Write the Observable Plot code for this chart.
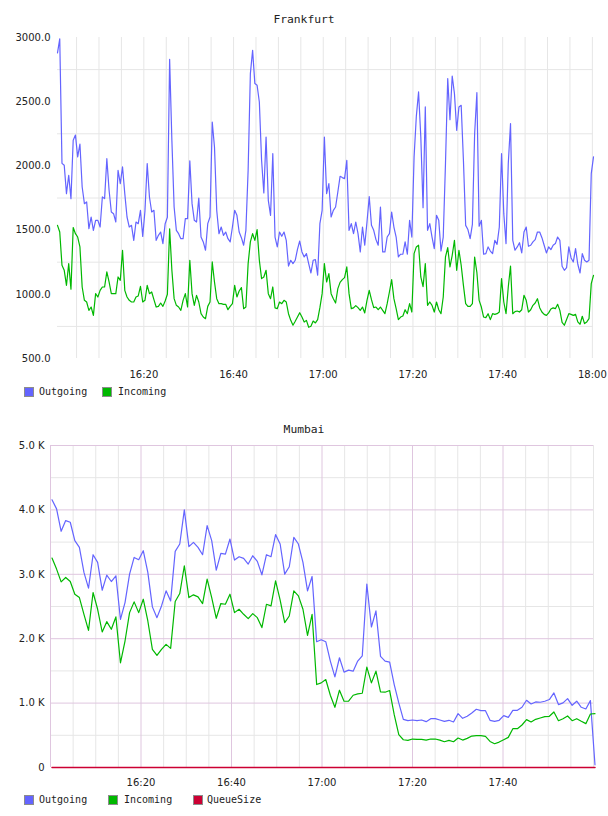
<!DOCTYPE html>
<html>
<head>
<meta charset="utf-8">
<script src="https://cdn.jsdelivr.net/npm/d3@7"></script>
<script src="https://cdn.jsdelivr.net/npm/@observablehq/plot@0.6"></script>
<style>
  body { margin: 0; background: #fff; width: 608px; height: 816px; position: relative; overflow: hidden; }
  .title { position: absolute; left: 0; width: 608px; text-align: center; font: 11.3px "DejaVu Sans Mono", monospace; color: #222; line-height: 14px; }
  .legend { position: absolute; left: 0; width: 608px; height: 14px; font: 10px "DejaVu Sans Mono", monospace; color: #222; line-height: 14px; }
  .legend span { position: absolute; top: 0; white-space: nowrap; }
  .legend i { position: absolute; top: 2px; width: 8px; height: 8px; border: 1px solid #8c8c8c; }
  .chart { position: absolute; left: 0; }
</style>
</head>
<body>
<div class="title" id="t1" style="top:13px"></div>
<div class="chart" id="c1" style="top:0"></div>
<div class="legend" id="l1" style="top:385px"></div>
<div class="title" id="t2" style="top:423px"></div>
<div class="chart" id="c2" style="top:410px"></div>
<div class="legend" id="l2" style="top:793px"></div>
<script>
// ---- Frankfurt: one sample every 30 s starting 16:00:45 ----
const frankfurtTitle = "Frankfurt";
const frankfurtStart = "16:00:45";
const frankfurtStepSeconds = 30;
const frankfurtSeries = ["Outgoing", "Incoming"];
const frankfurtOutgoing = [
  2880, 2990, 2020, 2005, 1784, 1927, 1745, 2200, 2240, 2070,
  2170, 1836, 1706, 1719, 1511, 1602, 1498, 1576, 1576, 1524,
  1758, 1745, 2056, 1810, 1641, 1628, 1563, 1966, 1862, 1992,
  1784, 1602, 1524, 1537, 1420, 1563, 1550, 1654, 1450, 1650,
  2018, 1758, 1641, 1654, 1420, 1459, 1485, 1395, 1550, 1600,
  2830, 2200, 1680, 1498, 1472, 1433, 1433, 1589, 1589, 2040,
  1706, 1576, 1563, 1750, 1446, 1408, 1343, 1550, 1602, 2342,
  2147, 1654, 1472, 1524, 1459, 1485, 1433, 1408, 1524, 1654,
  1615, 1485, 1441, 1382, 1498, 1966, 2719, 2900, 2641, 2628,
  2498, 2044, 1790, 2225, 1732, 1615, 2095, 1446, 1369, 1485,
  1452, 1485, 1420, 1220, 1265, 1239, 1265, 1350, 1415, 1330,
  1291, 1317, 1239, 1166, 1265, 1270, 1150, 1550, 1654, 2225,
  1784, 1862, 1602, 1654, 1680, 1797, 1919, 1909, 1901, 2044,
  1498, 1550, 1472, 1563, 1472, 1330, 1524, 1382, 1563, 1760,
  1537, 1498, 1426, 1382, 1680, 1330, 1330, 1446, 1472, 1641,
  1524, 1446, 1291, 1312, 1312, 1408, 1312, 1576, 1446, 2070,
  2386, 2576, 2225, 1675, 2459, 1498, 1550, 1446, 1356, 1615,
  1576, 1337, 1446, 2018, 2680, 2360, 2700, 2563, 2277, 2459,
  2472, 2044, 1537, 1504, 1433, 1545, 2250, 2570, 1530, 1576,
  1312, 1317, 1369, 1337, 1317, 1420, 1389, 1524, 2095, 1628,
  1395, 2018, 2330, 1420, 1343, 1369, 1402, 1322, 1485, 1524,
  1374, 1382, 1408, 1426, 1485, 1485, 1441, 1382, 1322, 1369,
  1348, 1382, 1395, 1446, 1420, 1218, 1187, 1208, 1369, 1283,
  1252, 1356, 1234, 1166, 1317, 1265, 1252, 1265, 1940, 2070
];
const frankfurtIncoming = [
  1537, 1485, 1226, 1187, 1070, 1239, 1040, 1520, 1472, 1446,
  1369, 1057, 953, 940, 875, 901, 836, 1005, 979, 1031,
  1057, 1057, 1174, 1096, 1005, 1005, 1005, 1135, 1109, 1343,
  1031, 979, 953, 940, 940, 979, 987, 1062, 940, 953,
  1070, 1005, 1018, 958, 901, 906, 932, 906, 948, 1000,
  1510, 1187, 966, 914, 901, 875, 953, 1005, 901, 1265,
  1005, 914, 992, 940, 849, 823, 810, 906, 940, 1252,
  1096, 966, 927, 927, 922, 922, 880, 906, 927, 1070,
  979, 1026, 1052, 888, 901, 1239, 1408, 1472, 1420, 1504,
  1265, 1122, 1135, 1187, 1005, 966, 1057, 894, 888, 940,
  927, 953, 940, 849, 797, 759, 790, 823, 857, 823,
  784, 797, 743, 751, 792, 777, 803, 896, 1005, 1239,
  1096, 1161, 1005, 966, 932, 1044, 1093, 1114, 1130, 1213,
  1005, 888, 894, 912, 896, 875, 901, 855, 953, 1031,
  958, 896, 901, 880, 901, 875, 849, 927, 1018, 1114,
  966, 888, 803, 823, 831, 880, 849, 927, 862, 1317,
  1369, 1382, 1135, 1060, 1239, 914, 940, 914, 862, 940,
  880, 849, 979, 1291, 1363, 1213, 1304, 1420, 1187, 1343,
  1226, 1070, 927, 906, 906, 927, 1290, 1170, 953, 901,
  823, 818, 849, 803, 849, 844, 849, 862, 1122, 940,
  849, 1057, 1220, 849, 865, 870, 862, 880, 992, 953,
  862, 880, 914, 932, 966, 896, 862, 844, 836, 855,
  886, 894, 888, 922, 875, 782, 759, 803, 849, 844,
  836, 844, 785, 767, 829, 772, 785, 810, 1083, 1148
];
const frankfurtDomain = ["16:00:45", "18:00:15"];
const frankfurtTimeTicks = ["16:20", "16:40", "17:00", "17:20", "17:40", "18:00"];
const frankfurtValueTicks = [500, 1000, 1500, 2000, 2500, 3000];

// ---- Mumbai: one sample roughly every minute starting 16:00:20 ----
const mumbaiTitle = "Mumbai";
const mumbaiStart = "16:00:20";
const mumbaiStepSeconds = 60.5;
const mumbaiSeries = ["Outgoing", "Incoming", "QueueSize"];
const mumbaiOutgoing = [
  4156, 4016, 3668, 3834, 3808, 3522, 3418, 3029, 2785, 3304,
  3185, 2753, 2987, 2888, 2977, 2301, 2561, 3003, 3262, 3226,
  3366, 3029, 2494, 2327, 2509, 2743, 2587, 3356, 3470, 4000,
  3429, 3496, 3418, 3304, 3756, 3522, 3065, 3325, 3314, 3548,
  3221, 3273, 3247, 3159, 3288, 3200, 2992, 3304, 3273, 3616,
  3470, 3003, 3117, 3574, 3470, 3185, 2743, 2966, 1953, 1984,
  1953, 1652, 1408, 1704, 1481, 1512, 1496, 1652, 1735, 2847,
  2182, 2431, 1725, 1652, 1636, 1288, 1003, 748, 727, 738,
  727, 738, 712, 758, 758, 738, 717, 733, 707, 836,
  764, 795, 847, 904, 883, 883, 733, 717, 733, 805,
  779, 888, 888, 935, 1044, 987, 1018, 1013, 1029, 1055,
  1158, 977, 1003, 1070, 966, 1029, 935, 909, 1039, 42
];
const mumbaiIncoming = [
  3252, 3081, 2883, 2951, 2888, 2691, 2639, 2379, 2130, 2717,
  2457, 2104, 2265, 2146, 2338, 1626, 1964, 2405, 2572, 2405,
  2613, 2275, 1834, 1740, 1834, 1912, 1849, 2577, 2701, 3133,
  2639, 2681, 2649, 2546, 2925, 2639, 2317, 2546, 2535, 2691,
  2405, 2457, 2379, 2312, 2390, 2327, 2172, 2535, 2509, 2899,
  2598, 2249, 2353, 2743, 2665, 2457, 2052, 2379, 1288, 1314,
  1366, 1122, 935, 1200, 1029, 1029, 1122, 1143, 1153, 1559,
  1314, 1496, 1174, 1169, 1195, 821, 509, 431, 421, 442,
  436, 436, 426, 442, 442, 426, 400, 421, 400, 457,
  426, 452, 488, 494, 494, 483, 405, 369, 395, 431,
  468, 603, 603, 660, 743, 707, 748, 769, 790, 795,
  862, 727, 758, 800, 727, 758, 717, 681, 831, 836
];
const mumbaiQueueSize = [
  0, 0, 0, 0, 0, 0, 0, 0, 0, 0, 0, 0, 0, 0, 0, 0, 0, 0, 0, 0,
  0, 0, 0, 0, 0, 0, 0, 0, 0, 0, 0, 0, 0, 0, 0, 0, 0, 0, 0, 0,
  0, 0, 0, 0, 0, 0, 0, 0, 0, 0, 0, 0, 0, 0, 0, 0, 0, 0, 0, 0,
  0, 0, 0, 0, 0, 0, 0, 0, 0, 0, 0, 0, 0, 0, 0, 0, 0, 0, 0, 0,
  0, 0, 0, 0, 0, 0, 0, 0, 0, 0, 0, 0, 0, 0, 0, 0, 0, 0, 0, 0,
  0, 0, 0, 0, 0, 0, 0, 0, 0, 0, 0, 0, 0, 0, 0, 0, 0, 0, 0, 0
];
const mumbaiDomain = ["16:00", "18:00"];
const mumbaiTimeTicks = ["16:20", "16:40", "17:00", "17:20", "17:40"];
const mumbaiValueTicks = [0, 1000, 2000, 3000, 4000, 5000];

// ---- styling ----
const seriesColors = { Outgoing: "#6464ff", Incoming: "#00b800", QueueSize: "#cc0033" };
const gridGrey = "#e6e6e6";
const gridPink = "#dfc6df";

const clock = s => {
  const [h, m, sec = 0] = s.split(":").map(Number);
  return new Date(Date.UTC(2000, 0, 1, h, m, sec));
};
const toRows = (start, stepSeconds, values) => {
  const t0 = +clock(start);
  return values.map((value, i) => ({ time: new Date(t0 + i * stepSeconds * 1000), value }));
};
const hhmm = d3.utcFormat("%H:%M");
const axisStyle = { fontFamily: "DejaVu Sans, sans-serif", fontSize: "10px", color: "#222", background: "transparent", overflow: "visible" };

function legend(el, names, positions) {
  names.forEach((name, k) => {
    const [sx, tx] = positions[k];
    const sw = document.createElement("i");
    sw.style.left = sx + "px";
    sw.style.background = seriesColors[name];
    const label = document.createElement("span");
    label.style.left = tx + "px";
    label.textContent = name;
    el.append(sw, label);
  });
}

// ---- Frankfurt chart ----
{
  const [d0, d1] = frankfurtDomain.map(clock);
  const fiveMin = d3.utcMinute.every(5).range(d0, new Date(+d1 + 1));
  const out = toRows(frankfurtStart, frankfurtStepSeconds, frankfurtOutgoing);
  const inc = toRows(frankfurtStart, frankfurtStepSeconds, frankfurtIncoming);
  const chart = Plot.plot({
    width: 608, height: 385,
    marginTop: 37, marginBottom: 27, marginLeft: 57, marginRight: 15,
    style: axisStyle,
    x: { type: "utc", domain: [d0, d1], ticks: frankfurtTimeTicks.map(clock), tickFormat: hhmm, tickSize: 0, tickPadding: 12, label: null },
    y: { domain: [500, 3000], ticks: frankfurtValueTicks, tickFormat: d => d.toFixed(1), tickSize: 0, tickPadding: 7, label: null },
    marks: [
      Plot.ruleY(d3.range(750, 3000, 500), { stroke: gridGrey }),
      Plot.ruleX(fiveMin, { stroke: gridGrey }),
      Plot.line(out, { x: "time", y: "value", stroke: seriesColors.Outgoing, strokeWidth: 1.2 }),
      Plot.line(inc, { x: "time", y: "value", stroke: seriesColors.Incoming, strokeWidth: 1.2 })
    ]
  });
  document.getElementById("c1").append(chart);
  document.getElementById("t1").textContent = frankfurtTitle;
  legend(document.getElementById("l1"), frankfurtSeries, [[24, 39], [102, 118]]);
}

// ---- Mumbai chart ----
{
  const [d0, d1] = mumbaiDomain.map(clock);
  const fiveMin = d3.utcMinute.every(5).range(d0, new Date(+d1 + 1));
  const twentyMin = fiveMin.filter(d => d.getUTCMinutes() % 20 === 0 && +d < +d1);
  const minorTimes = fiveMin.filter(d => !twentyMin.some(t => +t === +d));
  const k = v => v === 0 ? "0" : (v / 1000).toFixed(1) + " K";
  const chart = Plot.plot({
    width: 608, height: 384,
    marginTop: 35, marginBottom: 27, marginLeft: 50, marginRight: 15,
    style: axisStyle,
    x: { type: "utc", domain: [d0, d1], ticks: mumbaiTimeTicks.map(clock), tickFormat: hhmm, tickSize: 0, tickPadding: 11, label: null },
    y: { domain: [0, 5000], ticks: mumbaiValueTicks, tickFormat: k, tickSize: 0, tickPadding: 6, label: null },
    marks: [
      Plot.ruleY(d3.range(500, 5000, 1000), { stroke: gridGrey }),
      Plot.ruleX(minorTimes, { stroke: gridGrey }),
      Plot.ruleY(d3.range(1000, 5001, 1000), { stroke: gridPink }),
      Plot.ruleX(twentyMin, { stroke: gridPink }),
      Plot.line(toRows(mumbaiStart, mumbaiStepSeconds, mumbaiOutgoing), { x: "time", y: "value", stroke: seriesColors.Outgoing, strokeWidth: 1.2 }),
      Plot.line(toRows(mumbaiStart, mumbaiStepSeconds, mumbaiIncoming), { x: "time", y: "value", stroke: seriesColors.Incoming, strokeWidth: 1.2 }),
      Plot.line(toRows(mumbaiStart, mumbaiStepSeconds, mumbaiQueueSize), { x: "time", y: "value", stroke: seriesColors.QueueSize, strokeWidth: 1.5 })
    ]
  });
  document.getElementById("c2").append(chart);
  document.getElementById("t2").textContent = mumbaiTitle;
  legend(document.getElementById("l2"), mumbaiSeries, [[24, 39], [108, 124], [193, 207]]);
}
</script>
</body>
</html>
